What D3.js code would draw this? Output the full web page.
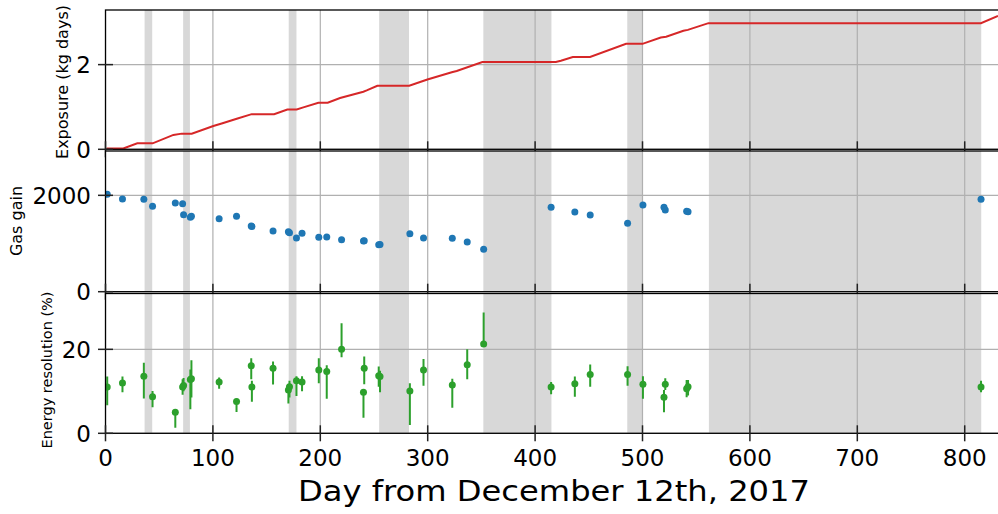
<!DOCTYPE html>
<html>
<head>
<meta charset="utf-8">
<script src="https://cdn.jsdelivr.net/npm/d3@7"></script>
<style>
  body { margin: 0; background: #fff; }
  svg { display: block; font-family: "DejaVu Sans", sans-serif; }
  .grid line { stroke: #b0b0b0; stroke-width: 1.2; }
  .tick line { stroke: #222; stroke-width: 1.5; }
  .ticklabel { font-size: 23px; fill: #000; }
  .ylabel { fill: #000; }
</style>
</head>
<body>
<svg id="chart" width="998" height="514"></svg>
<script>
// grey periods (no data / detector off), in days
const bandStart = [36.4, 72.3, 170.6, 254.8, 351.8, 485.8, 561.8];
const bandEnd   = [43.5, 78.6, 177.8, 282.6, 415.2, 500.1, 815.4];

// cumulative exposure (kg days), breakpoints
const expDay = [1, 16.6, 29.6, 43.9, 63.2, 71, 80.3, 100.4, 108.2, 122.2, 136.1, 157, 169.3, 178,
                184.2, 198.2, 206.9, 218.4, 240.1, 243.2, 253.1, 282.8, 299.7, 322.4, 327, 350.9,
                419.3, 424, 435.1, 451.2, 484.7, 500, 517, 522, 538.1, 542.2, 561.4, 815.1, 831];
const expVal = [0.02, 0.02, 0.14, 0.14, 0.34, 0.37, 0.37, 0.55, 0.61, 0.72, 0.83, 0.83, 0.94, 0.94,
                0.99, 1.10, 1.10, 1.21, 1.36, 1.39, 1.50, 1.50, 1.65, 1.82, 1.85, 2.06,
                2.06, 2.09, 2.18, 2.18, 2.49, 2.49, 2.64, 2.66, 2.80, 2.82, 2.98, 2.98, 3.15];

// measurement days
const runDay = [1.6, 15.8, 35.7, 43.8, 65, 71.8, 72.7, 79, 80, 105.8, 122, 135.7, 136.3, 156,
                170.3, 171.3, 177.8, 183, 198.6, 206, 219.8, 240.2, 240.9, 254.4, 255.6, 283.4,
                296.1, 322.9, 336.8, 352.1, 414.9, 437, 451.3, 486.1, 500.4, 520, 521.2, 541.1,
                542.4, 815.2];
const gasGain = [2020, 1923, 1917, 1772, 1840, 1826, 1598, 1544, 1564, 1515, 1564, 1363, 1355, 1259,
                 1245, 1224, 1114, 1211, 1128, 1135, 1079, 1052, 1058, 975, 980, 1203,
                 1114, 1108, 1031, 880, 1751, 1654, 1591, 1419, 1799, 1751, 1695, 1668,
                 1660, 1917];
const eRes   = [11.0, 12.0, 13.6, 8.7, 5.0, 11.0, 11.4, 12.8, 13.0, 12.2, 7.6, 16.1, 11.0, 15.5,
                10.3, 11.1, 12.5, 12.2, 15.1, 14.7, 20.0, 9.8, 15.5, 13.7, 13.5, 10.1,
                15.1, 11.5, 16.3, 21.3, 11.0, 11.8, 14.0, 14.0, 11.7, 8.6, 11.7, 10.6,
                11.1, 11.0];
const eResLo = [6.7, 9.8, 8.3, 6.2, 1.3, 9.2, 10.0, 5.7, 8.5, 10.6, 5.1, 12.9, 7.5, 11.6,
                7.1, 8.5, 8.9, 10.0, 11.9, 8.2, 18.1, 3.7, 11.7, 11.1, 9.8, 2.0,
                11.3, 6.1, 12.9, 20.8, 9.3, 8.7, 11.1, 11.3, 8.2, 5.0, 10.3, 8.6,
                9.0, 9.8];
const eResHi = [13.5, 13.5, 16.8, 10.1, 5.8, 12.9, 13.2, 15.2, 17.4, 13.3, 8.2, 17.9, 12.5, 17.1,
                11.4, 12.5, 13.6, 13.6, 17.9, 16.2, 26.2, 10.4, 18.3, 15.9, 14.9, 11.9,
                17.7, 13.0, 20.0, 28.8, 12.2, 13.5, 16.4, 16.0, 13.6, 10.3, 13.1, 12.7,
                12.7, 12.5];

const xTicks = [0, 100, 200, 300, 400, 500, 600, 700, 800];
const expTicks = [0, 2];
const gainTicks = [0, 2000];
const resTicks = [0, 20];

const svg = d3.select("#chart");
const x = d3.scaleLinear([0, 831], [105.5, 998]);

const panels = [
  {top: 10,    bottom: 149.3, ymax: 3.29, ticks: expTicks,  label: "Exposure (kg days)",    lx: 62, ly: 82,  fs: 16},
  {top: 151,   bottom: 291.7, ymax: 2920, ticks: gainTicks, label: "Gas gain",              lx: 16, ly: 221, fs: 16},
  {top: 293.5, bottom: 433.3, ymax: 33.3, ticks: resTicks,  label: "Energy resolution (%)", lx: 47, ly: 370, fs: 14.5}
];

panels.forEach(function(p, i) {
  const y = d3.scaleLinear([0, p.ymax], [p.bottom, p.top]);
  const g = svg.append("g");
  const clipId = "clip" + i;
  g.append("clipPath").attr("id", clipId)
    .append("rect").attr("x", x(0)).attr("y", p.top)
    .attr("width", x.range()[1] - x(0)).attr("height", p.bottom - p.top);

  g.append("rect")
    .attr("x", x(0)).attr("y", p.top)
    .attr("width", x.range()[1] - x(0)).attr("height", p.bottom - p.top)
    .attr("fill", "#fff");

  const body = g.append("g").attr("clip-path", "url(#" + clipId + ")");
  body.selectAll(".band").data(bandStart).join("rect")
    .attr("x", d => x(d))
    .attr("width", (d, j) => x(bandEnd[j]) - x(d))
    .attr("y", p.top).attr("height", p.bottom - p.top)
    .attr("fill", "#d8d8d8");

  const grid = body.append("g").attr("class", "grid");
  grid.selectAll(".vx").data(xTicks).join("line")
    .attr("x1", d => x(d)).attr("x2", d => x(d))
    .attr("y1", p.top).attr("y2", p.bottom);
  grid.selectAll(".hy").data(p.ticks).join("line")
    .attr("x1", x(0)).attr("x2", x.range()[1])
    .attr("y1", d => y(d)).attr("y2", d => y(d));

  if (i === 0) {
    const line = d3.line().x(d => x(d)).y((d, j) => y(expVal[j]));
    body.append("path")
      .attr("d", line(expDay))
      .attr("fill", "none")
      .attr("stroke", "#d62728")
      .attr("stroke-width", 2);
  } else if (i === 1) {
    body.selectAll(".pt").data(runDay).join("circle")
      .attr("cx", d => x(d)).attr("cy", (d, j) => y(gasGain[j]))
      .attr("r", 3.5).attr("fill", "#1f77b4");
  } else {
    body.selectAll(".err").data(runDay).join("line")
      .attr("x1", d => x(d)).attr("x2", d => x(d))
      .attr("y1", (d, j) => y(eResLo[j])).attr("y2", (d, j) => y(eResHi[j]))
      .attr("stroke", "#2ca02c").attr("stroke-width", 2);
    body.selectAll(".pt").data(runDay).join("circle")
      .attr("cx", d => x(d)).attr("cy", (d, j) => y(eRes[j]))
      .attr("r", 3.5).attr("fill", "#2ca02c");
  }

  // spines
  g.append("rect")
    .attr("x", x(0)).attr("y", p.top)
    .attr("width", x.range()[1] - x(0) + 5).attr("height", p.bottom - p.top)
    .attr("fill", "none").attr("stroke", "#000").attr("stroke-width", 1.3);

  // ticks point both in and out
  const tk = g.append("g").attr("class", "tick");
  tk.selectAll(".xt").data(xTicks).join("line")
    .attr("x1", d => x(d)).attr("x2", d => x(d))
    .attr("y1", p.bottom - 8).attr("y2", p.bottom + 8);
  tk.selectAll(".yt").data(p.ticks).join("line")
    .attr("x1", x(0) - 7.5).attr("x2", x(0) + 7.5)
    .attr("y1", d => y(d)).attr("y2", d => y(d));

  g.selectAll(".yl").data(p.ticks).join("text")
    .attr("class", "ticklabel")
    .attr("x", 91).attr("y", d => y(d))
    .attr("dy", "0.36em")
    .attr("text-anchor", "end")
    .text(d => d);

  g.append("text")
    .attr("class", "ylabel")
    .attr("transform", "translate(" + p.lx + "," + p.ly + ") rotate(-90)")
    .attr("text-anchor", "middle")
    .attr("dy", "0.35em")
    .style("font-size", p.fs + "px")
    .text(p.label);
});

// x tick labels on bottom panel only
svg.selectAll(".xl").data(xTicks).join("text")
  .attr("class", "ticklabel")
  .attr("x", d => x(d)).attr("y", 466)
  .attr("text-anchor", "middle")
  .text(d => d);

svg.append("text")
  .attr("x", 554).attr("y", 501)
  .attr("text-anchor", "middle")
  .attr("textLength", 512)
  .attr("lengthAdjust", "spacingAndGlyphs")
  .style("font-size", "29px")
  .text("Day from December 12th, 2017");
</script>
</body>
</html>
